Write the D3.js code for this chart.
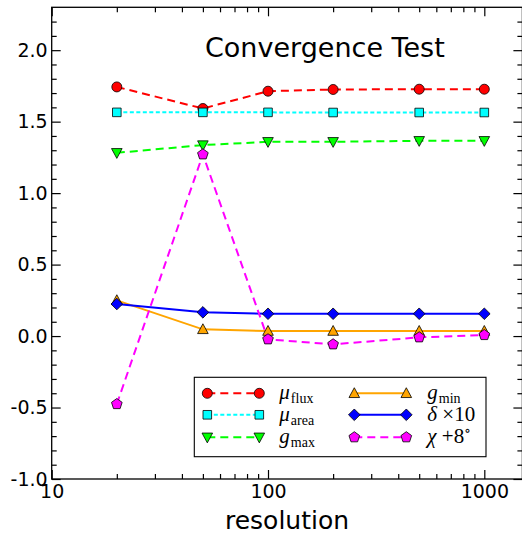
<!DOCTYPE html>
<html><head><meta charset="utf-8">
<script src="https://cdn.jsdelivr.net/npm/d3@7"></script>
<style>body{margin:0;background:#fff}svg{display:block}</style>
</head><body>
<svg id="chart" width="522" height="535"></svg>
<script>
// Resolution values (log axis) and the measured quantities at each one
const resolution = [20, 50, 100, 200, 500, 1000];
const muFlux  = [1.743, 1.592, 1.713, 1.725, 1.727, 1.727];
const muArea  = [1.565, 1.565, 1.565, 1.564, 1.564, 1.564];
const gMax    = [1.282, 1.336, 1.359, 1.359, 1.366, 1.366];
const gMin    = [0.250, 0.047, 0.035, 0.035, 0.035, 0.035];
const delta10 = [0.224, 0.166, 0.156, 0.156, 0.156, 0.156];
const chi8    = [-0.476, 1.271, -0.023, -0.058, -0.009, 0.007];

const yTickValues = [-1.0, -0.5, 0.0, 0.5, 1.0, 1.5, 2.0];
const xTickValues = [10, 100, 1000];
const titleText = "Convergence Test";
const xLabelText = "resolution";

const svg = d3.select("#chart");
const L = 51.7, R = 522.4, T = 7.3, B = 479;

const x = d3.scaleLog().domain([10, 1500]).range([L, R]);
const y = d3.scaleLinear().domain([-1, 2.3]).range([B, T]);

// marker path builders (centred at 0,0)
const markers = {
  circle: () => { const r = 5; return `M${r},0A${r},${r} 0 1,1 ${-r},0A${r},${r} 0 1,1 ${r},0Z`; },
  square: () => { const h = 4.3; return `M${-h},${-h}H${h}V${h}H${-h}Z`; },
  triDown: () => { const r = 5.3; return `M${-r},${-r*0.8}L${r},${-r*0.8}L0,${r*1.05}Z`; },
  triUp: () => { const r = 5.3; return `M${-r},${r*0.8}L${r},${r*0.8}L0,${-r*1.05}Z`; },
  diamond: () => { const r = 5.8; return `M0,${-r}L${r},0L0,${r}L${-r},0Z`; },
  pentagon: () => {
    const r = 5.6; const pts = [];
    for (let i = 0; i < 5; i++) { const a = -Math.PI/2 + i*2*Math.PI/5; pts.push([r*Math.cos(a), r*Math.sin(a)]); }
    return "M" + pts.map(p => p[0].toFixed(2) + "," + p[1].toFixed(2)).join("L") + "Z";
  }
};

const series = [
  { values: muFlux,  color: "#ff0000", dash: "8,5",   marker: "circle",   sym: "μ", sub: "flux" },
  { values: muArea,  color: "#00ffff", dash: "4,2.5", marker: "square",   sym: "μ", sub: "area" },
  { values: gMax,    color: "#00ff00", dash: "8,5",   marker: "triDown",  sym: "g", sub: "max" },
  { values: gMin,    color: "#ffa500", dash: null,    marker: "triUp",    sym: "g", sub: "min" },
  { values: delta10, color: "#0000ff", dash: null,    marker: "diamond",  sym: "δ", rest: " ×10" },
  { values: chi8,    color: "#ff00ff", dash: "8,5",   marker: "pentagon", sym: "χ", rest: " +8", deg: true }
];

// ticks: inward on all four sides
const fmt = v => v.toFixed(1);
const yMinor = d3.range(-10, 23).map(i => i / 10).filter(v => !yTickValues.some(t => Math.abs(t - v) < 1e-9));
const xMinor = [];
[10, 100].forEach(d => { for (let k = 2; k <= 9; k++) xMinor.push(d * k); });

const axisG = svg.append("g");

axisG.append("g").attr("transform", `translate(${L},0)`)
  .call(d3.axisLeft(y).tickValues(yTickValues).tickSize(-9).tickPadding(4).tickFormat(fmt));
axisG.append("g").attr("transform", `translate(${L},0)`)
  .call(d3.axisLeft(y).tickValues(yMinor).tickSize(-5).tickFormat(""));
axisG.append("g").attr("transform", `translate(${R},0)`)
  .call(d3.axisRight(y).tickValues(yTickValues).tickSize(-9).tickFormat(""));
axisG.append("g").attr("transform", `translate(${R},0)`)
  .call(d3.axisRight(y).tickValues(yMinor).tickSize(-5).tickFormat(""));
axisG.append("g").attr("transform", `translate(0,${B})`)
  .call(d3.axisBottom(x).tickValues(xTickValues).tickSize(-9).tickPadding(6).tickFormat(d3.format("d")));
axisG.append("g").attr("transform", `translate(0,${B})`)
  .call(d3.axisBottom(x).tickValues(xMinor).tickSize(-5).tickFormat(""));
axisG.append("g").attr("transform", `translate(0,${T})`)
  .call(d3.axisTop(x).tickValues(xTickValues).tickSize(-9).tickFormat(""));
axisG.append("g").attr("transform", `translate(0,${T})`)
  .call(d3.axisTop(x).tickValues(xMinor).tickSize(-5).tickFormat(""));

axisG.selectAll("g").attr("font-family", "DejaVu Sans").attr("font-size", 19);
axisG.selectAll(".domain").remove();
axisG.selectAll(".tick line").attr("stroke", "#000").attr("stroke-width", 1.2);
axisG.selectAll(".tick text").attr("fill", "#000");

// data lines and markers
const line = d3.line().x((d, i) => x(resolution[i])).y(d => y(d));
const plot = svg.append("g");
series.forEach(s => {
  const g = plot.append("g");
  g.append("path").datum(s.values).attr("d", line)
    .attr("fill", "none").attr("stroke", s.color).attr("stroke-width", 2)
    .attr("stroke-dasharray", s.dash);
  g.selectAll("path.m").data(s.values).join("path").attr("class", "m")
    .attr("d", markers[s.marker]())
    .attr("transform", (d, i) => `translate(${x(resolution[i])},${y(d)})`)
    .attr("fill", s.color).attr("stroke", "#000").attr("stroke-width", 0.8);
});

// frame
svg.append("rect").attr("x", L).attr("y", T).attr("width", R - L).attr("height", B - T)
  .attr("fill", "none").attr("stroke", "#000").attr("stroke-width", 1.3);

// title and axis label
svg.append("text").attr("x", 205).attr("y", 57.3).attr("font-family", "DejaVu Sans")
  .attr("font-size", 27).attr("fill", "#000").text(titleText);
svg.append("text").attr("x", (L + R) / 2).attr("y", 529).attr("text-anchor", "middle")
  .attr("font-family", "DejaVu Sans").attr("font-size", 25).attr("fill", "#000").text(xLabelText);

// legend
const leg = svg.append("g");
leg.append("rect").attr("x", 194.3).attr("y", 377.3).attr("width", 291.7).attr("height", 79.4)
  .attr("fill", "#fff").attr("stroke", "#000").attr("stroke-width", 1.1);
const colX = [207.3, 354.3], lineLen = 52, textX = [279.3, 427.3];
const rowY = [393.3, 414.8, 437.3];
series.forEach((s, k) => {
  const c = Math.floor(k / 3), r = k % 3;
  const x0 = colX[c], x1 = colX[c] + lineLen, yy = rowY[r];
  leg.append("line").attr("x1", x0).attr("x2", x1).attr("y1", yy).attr("y2", yy)
    .attr("stroke", s.color).attr("stroke-width", 2).attr("stroke-dasharray", s.dash);
  [x0, x1].forEach(px => leg.append("path").attr("d", markers[s.marker]())
    .attr("transform", `translate(${px},${yy})`)
    .attr("fill", s.color).attr("stroke", "#000").attr("stroke-width", 0.8));
  const t = leg.append("text").attr("x", textX[c]).attr("y", yy + 6)
    .attr("font-family", "Liberation Serif, DejaVu Serif, serif").attr("font-size", 21).attr("fill", "#000");
  t.append("tspan").attr("font-style", "italic").text(s.sym);
  if (s.sub) t.append("tspan").attr("font-size", 14).attr("dy", 4).attr("dx", 1).text(s.sub);
  if (s.rest) t.append("tspan").text(s.rest);
  if (s.deg) t.append("tspan").attr("font-size", 14).attr("dy", -8).text("∘");
});
</script>
</body></html>
